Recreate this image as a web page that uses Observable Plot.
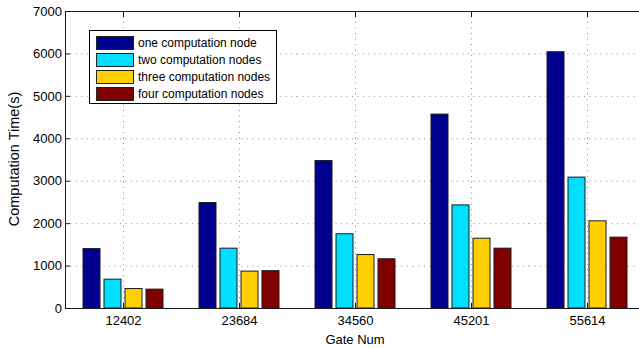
<!DOCTYPE html>
<html><head><meta charset="utf-8">
<script src="https://cdn.jsdelivr.net/npm/d3@7"></script>
<script src="https://cdn.jsdelivr.net/npm/@observablehq/plot@0.6"></script>
<style>
body{margin:0;background:#fff;}
#wrap{position:relative;width:639px;height:348px;overflow:hidden;font-family:"Liberation Sans",Arial,sans-serif;color:#000;}
#wrap svg{position:absolute;left:0;top:0;}
.legend{position:absolute;left:89px;top:30px;width:188px;height:74px;box-sizing:border-box;border:1px solid #000;background:#fff;padding:3px 0 0 6px;}
.row{display:flex;align-items:center;height:17px;font-size:12px;white-space:nowrap;}
.sw{width:38px;height:14px;box-sizing:border-box;border:1px solid #222;margin-right:4px;flex:none;}
.ytitle{position:absolute;left:13.5px;top:158.5px;transform:translate(-50%,-50%) rotate(-90deg);font-size:14.5px;line-height:1;white-space:nowrap;}
.xtitle{position:absolute;left:355px;top:338.5px;transform:translate(-50%,-50%);font-size:13px;line-height:1;white-space:nowrap;}
</style></head><body><div id="wrap"></div>
<script>
const gates = ["12402", "23684", "34560", "45201", "55614"];
const series = ["one computation node", "two computation nodes", "three computation nodes", "four computation nodes"];
const oneNode = [1400, 2485, 3475, 4570, 6040];
const twoNodes = [680, 1410, 1750, 2430, 3085];
const threeNodes = [460, 870, 1260, 1645, 2055];
const fourNodes = [445, 880, 1160, 1410, 1670];
const colors = ["#00008f", "#00dfff", "#ffcf00", "#800000"];
const yTicks = [0, 1000, 2000, 3000, 4000, 5000, 6000, 7000];
const xTitle = "Gate Num";
const yTitle = "Computation Time(s)";

const seriesValues = [oneNode, twoNodes, threeNodes, fourNodes];
const rows = gates.flatMap((g, i) => series.map((s, j) => ({gate: g, series: s, value: seriesValues[j][i]})));

const gridStyle = {stroke: "#000", strokeOpacity: 0.45, strokeDasharray: "1,4.5"};

const chart = Plot.plot({
  width: 639, height: 348,
  marginLeft: 65, marginRight: 0, marginTop: 11, marginBottom: 40,
  style: {fontFamily: "'Liberation Sans', Arial, sans-serif", fontSize: "13px", color: "#000", background: "transparent"},
  fx: {domain: gates, range: [65, 645], padding: 0, axis: null, label: null},
  x: {domain: series, paddingInner: 0.18, paddingOuter: 0.85, axis: null, label: null},
  y: {domain: [0, 7000], axis: null, label: null},
  color: {domain: series, range: colors},
  marks: [
    Plot.gridY(yTicks, gridStyle),
    Plot.gridFx(gridStyle),
    Plot.barY(rows, {fx: "gate", x: "series", y: "value", fill: "series", stroke: "#1a1a1a", strokeWidth: 1}),
    Plot.ruleY([0, 7000], {stroke: "#1a1a1a", strokeWidth: 1}),
    Plot.frame({anchor: "left", facetAnchor: "left", stroke: "#1a1a1a"}),
    Plot.axisY(yTicks, {anchor: "left", tickSize: 0, tickPadding: 3.5, tickFormat: d => String(d), label: null, fontSize: 13}),
    Plot.axisY(yTicks, {anchor: "left", tickSize: -5, tickFormat: () => "", label: null, stroke: "#1a1a1a"}),
    Plot.axisFx({anchor: "bottom", tickSize: 0, tickPadding: 7, label: null, fontSize: 13}),
    Plot.axisFx({anchor: "bottom", tickSize: -5, tickFormat: () => "", label: null, stroke: "#1a1a1a"}),
    Plot.axisFx({anchor: "top", tickSize: -5, tickFormat: () => "", label: null, stroke: "#1a1a1a"})
  ]
});

const wrap = document.getElementById("wrap");
wrap.appendChild(chart);

const legend = document.createElement("div");
legend.className = "legend";
series.forEach((s, i) => {
  const r = document.createElement("div");
  r.className = "row";
  const sw = document.createElement("span");
  sw.className = "sw";
  sw.style.background = colors[i];
  const t = document.createElement("span");
  t.textContent = s;
  r.appendChild(sw); r.appendChild(t);
  legend.appendChild(r);
});
wrap.appendChild(legend);

const yt = document.createElement("div");
yt.className = "ytitle"; yt.textContent = yTitle; wrap.appendChild(yt);
const xt = document.createElement("div");
xt.className = "xtitle"; xt.textContent = xTitle; wrap.appendChild(xt);
</script>
</body></html>
